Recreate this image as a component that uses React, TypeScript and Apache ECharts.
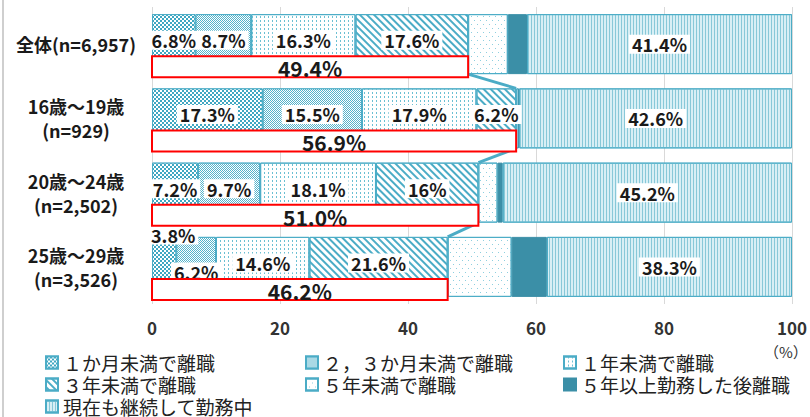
import React, { useEffect, useRef } from "react";
import * as echarts from "echarts";

const categories = ["全体(n=6,957)", "16歳～19歳\n(n=929)", "20歳～24歳\n(n=2,502)", "25歳～29歳\n(n=3,526)"];
const seriesNames = [
  "１か月未満で離職",
  "２，３か月未満で離職",
  "１年未満で離職",
  "３年未満で離職",
  "５年未満で離職",
  "５年以上勤務した後離職",
  "現在も継続して勤務中",
];
const lessThan1Month = [6.8, 17.3, 7.2, 3.8];
const lessThan3Months = [8.7, 15.5, 9.7, 6.2];
const lessThan1Year = [16.3, 17.9, 18.1, 14.6];
const lessThan3Years = [17.6, 6.2, 16, 21.6];
const lessThan5Years = [6.2, 0.4, 3.0, 10.0];
const after5Years = [3.0, 0.1, 0.8, 5.5];
const stillEmployed = [41.4, 42.6, 45.2, 38.3];
const within3YearsTotal = [49.4, 56.9, 51.0, 46.2];
const xTicks = { min: 0, max: 100, interval: 20 };

const FONT = '"Noto Sans CJK JP", "Noto Sans", sans-serif';
const TEAL = "#4bacc6";

export default function App() {
  const ref = useRef<HTMLDivElement>(null);
  useEffect(() => {
    if (!ref.current) return;
    const chart = echarts.init(ref.current, null, { renderer: "svg" });

    const values = [
      lessThan1Month,
      lessThan3Months,
      lessThan1Year,
      lessThan3Years,
      lessThan5Years,
      after5Years,
      stillEmployed,
    ];
    const styles: any[] = [
      {
        color: "#3fa7c2",
        decal: { symbol: "rect", symbolSize: 1, color: "#ffffff", dashArrayX: [[2, 2], [0, 2, 2, 0]], dashArrayY: [2, 0] },
      },
      {
        color: "#55b3cb",
        decal: { symbol: "rect", symbolSize: 1, color: "#ffffff", dashArrayX: [[1, 1], [0, 1, 1, 0]], dashArrayY: [1, 0] },
      },
      {
        color: "#ffffff",
        decal: { symbol: "rect", symbolSize: 1, color: "#6cc0d3", dashArrayX: [1, 3], dashArrayY: [2, 2] },
      },
      {
        color: "#ffffff",
        decal: { symbol: "rect", symbolSize: 1, color: TEAL, dashArrayX: [1, 0], dashArrayY: [2, 3], rotation: Math.PI / 4 },
      },
      {
        color: "#ffffff",
        decal: { symbol: "rect", symbolSize: 1, color: "#8ecfdf", dashArrayX: [[1, 5], [0, 3, 1, 2]], dashArrayY: [1, 3] },
      },
      { color: "#3b8fa7" },
      {
        color: "#d8eff5",
        decal: { symbol: "rect", symbolSize: 1, color: "#88c8d8", dashArrayX: [1, 2], dashArrayY: [1, 0] },
      },
    ];

    const labelBase = {
      show: true,
      position: "inside",
      formatter: "{c}%",
      fontFamily: FONT,
      fontWeight: "bold",
      fontSize: 18,
      color: "#1a1a1a",
      backgroundColor: "#ffffff",
      padding: [1, 3, 0, 3],
    };

    const barSeries = values.map((arr, si) => {
      const showLabel = si < 4 || si === 6;
      const data = arr.map((v, i) => {
        const item: any = { value: v };
        if (si === 0 && i === 3) item.label = { offset: [9, -32] };
        if (si === 1 && i === 3) item.label = { offset: [0, 5] };
        return item;
      });
      return {
        type: "bar",
        name: seriesNames[si],
        stack: "total",
        barWidth: 60,
        data,
        itemStyle: { ...styles[si], borderColor: si === 5 ? "#3b8fa7" : TEAL, borderWidth: 1 },
        label: showLabel ? { ...labelBase, offset: si === 6 ? [0, 0] : [0, -4] } : { show: false },
        emphasis: { disabled: true },
      };
    });

    const customSeries = {
      type: "custom",
      z: 5,
      data: within3YearsTotal.map((t, i) => [i, t]),
      encode: { x: 1, y: 0 },
      renderItem: (params: any, api: any) => {
        const i = api.value(0);
        const total = api.value(1);
        const p0 = api.coord([0, i]);
        const p1 = api.coord([total, i]);
        const cy = p0[1];
        const children: any[] = [];
        if (i < within3YearsTotal.length - 1) {
          const pn = api.coord([within3YearsTotal[i + 1], i + 1]);
          children.push({
            type: "line",
            shape: { x1: p1[0], y1: cy + 30, x2: pn[0], y2: pn[1] - 30 },
            style: { stroke: TEAL, lineWidth: 3 },
          });
        }
        children.push({
          type: "rect",
          shape: { x: p0[0], y: cy + 12, width: p1[0] - p0[0], height: 21 },
          style: { fill: "#ffffff", stroke: "#ff0000", lineWidth: 2 },
        });
        children.push({
          type: "text",
          style: {
            text: total.toFixed(1) + "%",
            x: (p0[0] + p1[0]) / 2,
            y: cy + 24,
            align: "center",
            verticalAlign: "middle",
            fontFamily: FONT,
            fontWeight: "bold",
            fontSize: 21,
            fill: "#1a1a1a",
          },
        });
        return { type: "group", children };
      },
    };

    const legendPos = [
      [45, 353],
      [305, 353],
      [563, 353],
      [45, 375],
      [305, 375],
      [563, 375],
      [45, 397],
    ];
    const legends = seriesNames.map((n, i) => ({
      data: [n],
      left: legendPos[i][0],
      top: legendPos[i][1],
      icon: "rect",
      itemWidth: 12,
      itemHeight: 12,
      itemGap: 0,
      padding: 0,
      selectedMode: false,
      textStyle: { fontFamily: FONT, fontSize: 19, color: "#222222", lineHeight: 19 },
    }));

    chart.setOption({
      animation: false,
      backgroundColor: "#ffffff",
      grid: { left: 152, right: 14, top: 7, height: 297 },
      xAxis: {
        type: "value",
        min: xTicks.min,
        max: xTicks.max,
        interval: xTicks.interval,
        axisLine: { show: false },
        axisTick: { show: false },
        splitLine: { show: true, lineStyle: { color: "#d9d9d9", width: 1 } },
        axisLabel: { fontFamily: FONT, fontWeight: "bold", fontSize: 17, color: "#333333", margin: 15 },
      },
      yAxis: {
        type: "category",
        inverse: true,
        data: categories,
        axisLine: { show: false },
        axisTick: { show: false },
        axisLabel: {
          align: "center",
          margin: 76,
          fontFamily: FONT,
          fontWeight: "bold",
          fontSize: 18,
          lineHeight: 24,
          color: "#1a1a1a",
        },
      },
      legend: legends,
      graphic: [
        { type: "rect", left: 2, top: 0, shape: { width: 2, height: 417 }, style: { fill: "#cfcfcf" } },
        {
          type: "text",
          left: 764,
          top: 344,
          style: { text: "（%）", fontFamily: FONT, fontSize: 15, fill: "#333333" },
        },
      ],
      series: [...barSeries, customSeries],
    });
    return () => chart.dispose();
  }, []);
  return <div ref={ref} style={{ position: "absolute", left: 0, top: 0, width: 810, height: 417 }} />;
}
